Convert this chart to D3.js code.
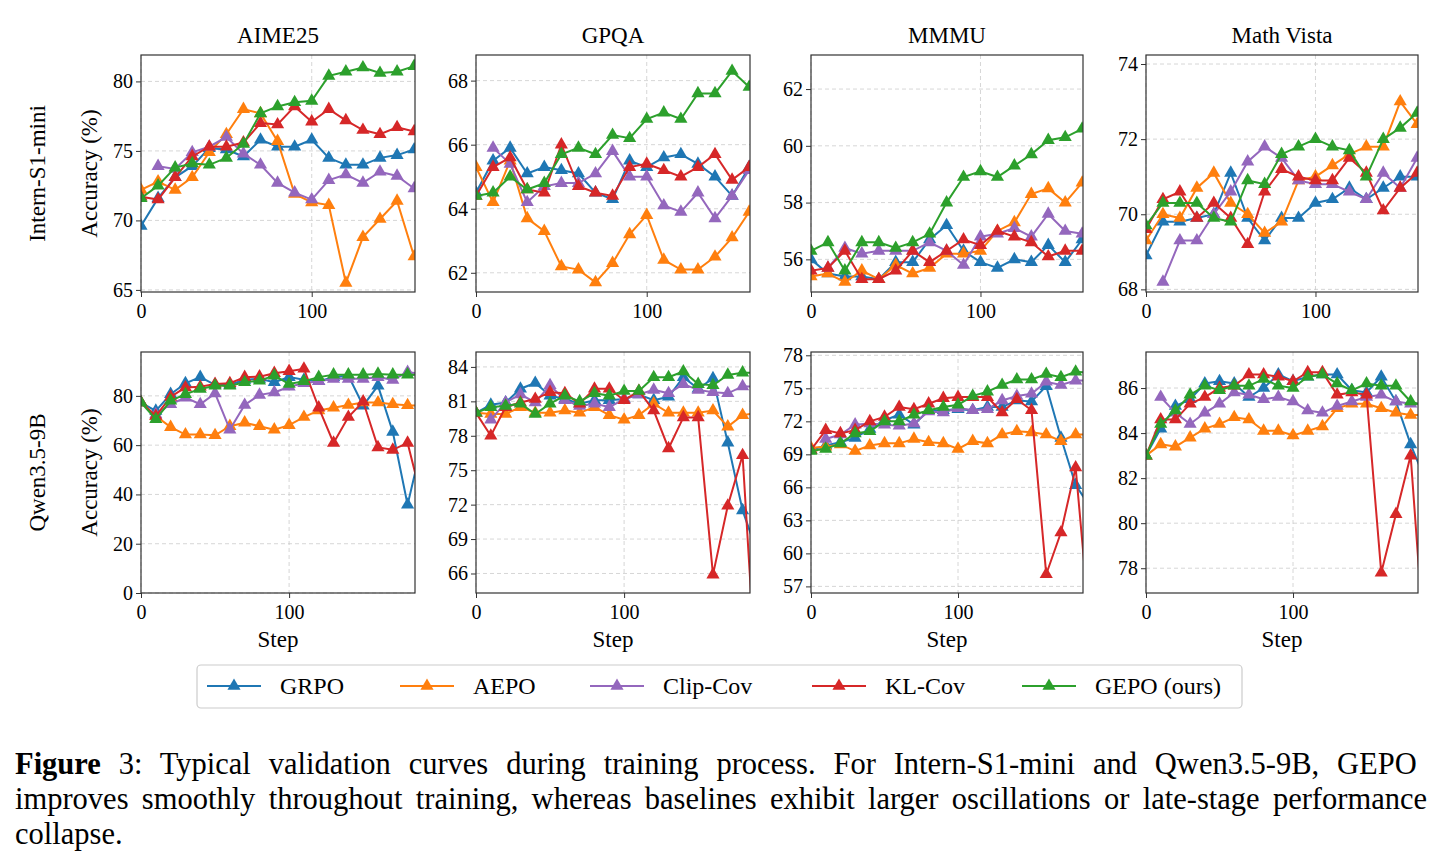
<!DOCTYPE html>
<html><head><meta charset="utf-8">
<script src="https://cdn.jsdelivr.net/npm/d3@7"></script>
<style>body{margin:0;background:#fff}svg{font-family:"Liberation Serif","DejaVu Serif",serif}</style>
</head><body><svg id="c" width="1443" height="867"></svg>
<script>
const seriesNames=["GRPO","AEPO","Clip-Cov","KL-Cov","GEPO (ours)"];
const colors=["#1f77b4","#ff7f0e","#9467bd","#d62728","#2ca02c"];
const stepsTop=d3.range(0,161,10);
const stepsBottom=d3.range(0,191,10);
const N=null;
// Intern-S1-mini
const aime_top=[
[69.6,71.6,73.1,73.9,75.2,75.1,74.6,75.8,75.3,75.3,75.8,74.5,74.0,74.0,74.5,74.7,75.1],
[72.2,72.8,72.2,73.1,74.9,76.2,78.0,77.7,75.7,71.9,71.3,71.1,65.5,68.8,70.1,71.4,67.4],
[N,73.9,73.7,74.9,75.3,76.0,74.8,74.0,72.7,72.0,71.5,72.9,73.3,72.7,73.5,73.2,72.3],
[71.7,71.5,73.1,74.6,75.3,75.3,75.6,77.0,76.9,78.2,77.1,78.0,77.2,76.5,76.2,76.7,76.4],
[71.6,72.5,73.8,74.1,74.0,74.5,75.5,77.7,78.2,78.5,78.6,80.4,80.7,81.0,80.6,80.7,81.1]];
const gpqa_top=[
[64.5,65.5,65.9,65.1,65.3,65.2,65.1,64.5,64.3,65.5,65.3,65.6,65.7,65.4,65.0,64.4,65.3],
[65.3,64.2,65.5,63.7,63.3,62.2,62.1,61.7,62.3,63.2,63.8,62.4,62.1,62.1,62.5,63.1,63.9],
[N,65.9,65.4,64.2,64.7,64.8,64.8,65.1,65.8,65.0,65.0,64.1,63.9,64.5,63.7,64.4,65.2],
[64.4,65.3,65.6,64.6,64.5,66.0,64.7,64.5,64.4,65.3,65.4,65.2,65.0,65.3,65.7,64.9,65.3],
[64.4,64.5,65.0,64.6,64.8,65.7,65.9,65.7,66.3,66.2,66.8,67.0,66.8,67.6,67.6,68.3,67.8]];
const mmmu_top=[
[56.0,55.5,55.4,55.4,55.3,55.9,55.9,56.7,57.2,56.3,55.9,55.7,56.0,55.9,56.5,55.9,56.7],
[55.4,55.5,55.2,55.6,55.3,55.8,55.5,55.7,56.2,56.2,56.3,57.0,57.3,58.3,58.5,58.0,58.7],
[N,55.7,56.4,56.2,56.3,56.3,56.3,56.6,56.3,55.8,56.8,56.9,57.1,56.8,57.6,57.0,56.9],
[55.6,55.7,56.3,55.3,55.3,55.6,56.3,55.9,56.3,56.7,56.5,57.0,56.8,56.6,56.1,56.3,56.3],
[56.3,56.6,55.6,56.6,56.6,56.4,56.6,56.9,58.0,58.9,59.1,58.9,59.3,59.7,60.2,60.3,60.6]];
const vista_top=[
[68.9,69.8,69.8,69.9,70.0,71.1,69.9,69.3,69.9,69.9,70.3,70.4,70.7,70.4,70.7,71.0,71.0],
[69.3,70.0,69.9,70.7,71.1,70.3,70.0,69.5,69.8,70.9,71.0,71.3,71.6,71.8,71.8,73.0,72.4],
[N,68.2,69.3,69.3,70.0,70.6,71.4,71.8,71.5,70.9,70.8,70.8,70.6,70.4,71.1,70.7,71.5],
[69.6,70.4,70.6,69.9,70.3,69.9,69.2,70.6,71.2,71.0,70.9,70.9,71.5,71.1,70.1,70.7,71.1],
[69.7,70.3,70.3,70.3,69.9,69.8,70.9,70.8,71.6,71.8,72.0,71.8,71.7,71.0,72.0,72.3,72.7]];
// Qwen3.5-9B
const aime_bot=[
[77.3,73.9,80.7,85.1,87.6,84.5,84.5,86.5,86.9,85.5,87.6,86.5,85.9,87.6,88.2,76.0,84.1,65.4,35.8,61.4],
[77.3,71.8,67.3,64.3,64.3,64.0,67.7,69.1,67.7,66.3,68.1,71.4,74.1,75.2,76.3,77.3,77.3,76.6,76.2,76.0],
[N,72.5,76.6,79.3,76.6,81.0,66.3,76.3,80.4,81.4,83.7,85.1,85.9,86.9,86.9,86.9,87.6,86.5,89.6,89.0],
[77.3,71.8,79.6,83.4,83.7,84.8,85.1,87.6,87.8,89.2,90.0,91.0,75.2,60.9,71.4,77.7,59.1,58.1,60.9,37.0],
[77.3,70.5,78.0,80.7,82.8,84.1,84.1,85.5,86.2,88.2,84.8,85.9,87.6,88.6,88.6,88.6,88.9,88.6,88.6,88.5]];
const gpqa_bot=[
[80.0,80.7,80.9,82.1,82.6,81.5,81.2,80.8,81.1,81.1,81.2,81.6,81.1,81.4,83.1,82.1,83.0,77.4,71.5,67.8],
[80.0,79.9,79.9,80.5,80.0,80.0,80.2,80.0,80.5,79.8,79.4,79.8,80.8,80.0,80.0,80.0,80.2,78.8,79.8,80.0],
[N,79.4,80.9,81.6,80.9,82.4,81.1,80.6,80.8,80.5,81.2,81.6,82.0,81.7,82.5,82.0,81.8,81.7,82.3,82.3],
[80.0,78.0,80.5,80.9,81.2,81.8,81.7,80.8,82.1,82.1,81.1,81.9,80.2,76.9,79.6,79.6,65.9,71.9,76.3,55.0],
[80.0,80.5,80.6,80.8,79.9,80.8,81.5,81.0,81.7,81.5,81.9,81.9,83.1,83.1,83.6,82.5,82.4,83.3,83.5,83.5]];
const mmmu_bot=[
[69.4,69.8,70.1,70.5,71.3,72.1,72.6,71.7,73.0,73.0,73.1,73.0,73.3,73.3,73.9,73.8,75.2,70.5,66.2,64.2],
[69.6,69.7,69.9,69.3,69.8,70.0,70.0,70.4,70.1,70.0,69.5,70.2,70.0,70.8,71.1,71.0,70.8,70.2,70.8,70.8],
[N,70.4,70.8,71.7,71.8,71.7,71.6,71.8,72.9,72.8,73.2,73.0,73.1,73.9,74.3,74.5,75.6,75.3,75.7,75.7],
[69.4,71.2,70.9,71.2,72.0,72.4,73.3,73.1,73.6,74.1,74.2,74.2,74.2,72.8,74.0,73.0,58.1,61.9,67.8,52.8],
[69.3,69.5,70.0,70.9,71.1,72.0,72.0,72.6,73.0,73.3,73.5,74.3,74.7,75.3,75.8,75.8,76.3,76.0,76.5,76.4]];
const vista_bot=[
[83.0,84.2,85.2,85.5,86.2,86.3,86.2,85.6,86.0,86.6,86.3,86.5,86.6,86.6,85.9,85.8,86.5,85.4,83.5,81.9],
[83.0,83.5,83.4,83.8,84.2,84.4,84.7,84.6,84.1,84.1,83.9,84.1,84.3,85.1,85.3,85.3,85.1,84.9,84.8,84.8],
[N,85.6,84.9,84.4,84.9,85.3,85.8,85.7,85.5,85.6,85.4,85.0,84.9,85.2,85.4,85.6,85.7,85.4,85.3,85.3],
[83.0,84.6,84.6,85.3,85.6,86.0,86.1,86.6,86.6,86.5,86.3,86.7,86.7,85.7,85.8,85.7,77.8,80.4,83.0,74.0],
[83.0,84.4,85.0,85.7,86.1,85.9,86.1,86.1,86.4,86.1,86.0,86.5,86.6,86.2,85.9,86.2,86.1,86.1,85.4,85.2]];
const titles=["AIME25","GPQA","MMMU","Math Vista"];
const rowLabels=["Intern-S1-mini","Qwen3.5-9B"];
const yDomains=[[64.85,81.9],[61.4,68.8],[54.85,63.2],[67.93,74.24],[0,97.8],[64.3,85.3],[56.4,78.3],[76.9,87.6]];
const yTicks=[[65,70,75,80],[62,64,66,68],[56,58,60,62],[68,70,72,74],[0,20,40,60,80],[66,69,72,75,78,81,84],[57,60,63,66,69,72,75,78],[78,80,82,84,86]];
const xTicks=[0,100];
const panelData=[aime_top,gpqa_top,mmmu_top,vista_top,aime_bot,gpqa_bot,mmmu_bot,vista_bot];

const svg=d3.select("#c");
const colX=[[141,415],[476,750],[811,1083],[1146,1418]];
const rowY=[[55,292],[352,593]];
const tri=d3.symbol().type(d3.symbolTriangle).size(75);
panelData.forEach((data,pi)=>{
  const r=Math.floor(pi/4), c=pi%4;
  const steps=r===0?stepsTop:stepsBottom;
  const x=d3.scaleLinear().domain(r===0?[0,160.5]:[0,185]).range(colX[c]);
  const y=d3.scaleLinear().domain(yDomains[pi]).range([rowY[r][1],rowY[r][0]]);
  const g=svg.append("g");
  const id="clip"+pi;
  svg.append("clipPath").attr("id",id).append("rect").attr("x",colX[c][0]).attr("y",rowY[r][0]).attr("width",colX[c][1]-colX[c][0]).attr("height",rowY[r][1]-rowY[r][0]);
  yTicks[pi].forEach(t=>g.append("line").attr("x1",colX[c][0]).attr("x2",colX[c][1]).attr("y1",y(t)).attr("y2",y(t)).attr("stroke","#ccc").attr("stroke-dasharray","4,3").attr("stroke-width",0.8));
  xTicks.forEach(t=>g.append("line").attr("x1",x(t)).attr("x2",x(t)).attr("y1",rowY[r][0]).attr("y2",rowY[r][1]).attr("stroke","#ccc").attr("stroke-dasharray","4,3").attr("stroke-width",0.8));
  const pg=g.append("g").attr("clip-path",`url(#${id})`);
  data.forEach((vals,si)=>{
    const pts=vals.map((v,i)=>[steps[i],v]).filter(d=>d[1]!==null);
    pg.append("path").attr("d",d3.line().x(d=>x(d[0])).y(d=>y(d[1]))(pts)).attr("fill","none").attr("stroke",colors[si]).attr("stroke-width",2);
    pg.selectAll(null).data(pts).enter().append("path").attr("d",tri).attr("transform",d=>`translate(${x(d[0])},${y(d[1])})`).attr("fill",colors[si]);
  });
  const ax=g.append("g").attr("transform",`translate(0,${rowY[r][1]})`).call(d3.axisBottom(x).tickValues(xTicks).tickFormat(d3.format("d")).tickSize(5).tickSizeOuter(0));
  const ay=g.append("g").attr("transform",`translate(${colX[c][0]},0)`).call(d3.axisLeft(y).tickValues(yTicks[pi]).tickFormat(d3.format("d")).tickSize(5).tickSizeOuter(0));
  [ax,ay].forEach(a=>{a.select(".domain").remove();a.selectAll("text").attr("font-size",20).attr("font-family","Liberation Serif").attr("fill","#000");a.selectAll("line").attr("stroke","#333");});
  ax.selectAll("text").attr("dy","0.9em");
  g.append("rect").attr("x",colX[c][0]).attr("y",rowY[r][0]).attr("width",colX[c][1]-colX[c][0]).attr("height",rowY[r][1]-rowY[r][0]).attr("fill","none").attr("stroke","#333").attr("stroke-width",1.2);
  if(r===0) svg.append("text").attr("x",(colX[c][0]+colX[c][1])/2).attr("y",43).attr("text-anchor","middle").attr("font-size",23).text(titles[c]);
  if(r===1) svg.append("text").attr("x",(colX[c][0]+colX[c][1])/2).attr("y",647).attr("text-anchor","middle").attr("font-size",23).text("Step");
  if(c===0){
    const cy=(rowY[r][0]+rowY[r][1])/2;
    svg.append("text").attr("transform",`translate(97,${cy}) rotate(-90)`).attr("text-anchor","middle").attr("font-size",23).text("Accuracy (%)");
    svg.append("text").attr("transform",`translate(45,${cy}) rotate(-90)`).attr("text-anchor","middle").attr("font-size",23).text(rowLabels[r]);
  }
});
// legend
svg.append("rect").attr("x",197).attr("y",665).attr("width",1045).attr("height",43).attr("rx",4).attr("fill","#fff").attr("stroke","#ccc").attr("stroke-width",1.2);
const legX=[207,400,590,812,1022];
seriesNames.forEach((n,i)=>{
  const lx=legX[i];
  svg.append("line").attr("x1",lx).attr("x2",lx+54).attr("y1",686).attr("y2",686).attr("stroke",colors[i]).attr("stroke-width",2);
  svg.append("path").attr("d",tri).attr("transform",`translate(${lx+27},686)`).attr("fill",colors[i]);
  svg.append("text").attr("x",lx+73).attr("y",694).attr("font-size",24).text(n);
});
// caption, justified via word-spacing
const cap=svg.append("g").attr("font-size",30.5);
function justify(t,width){
  const nat=t.node().getComputedTextLength();
  const txt=t.text();
  const gaps=(txt.match(/ /g)||[]).length;
  if(gaps>0) t.attr("word-spacing",Math.max(0,(width-nat)/gaps));
}
const l1=cap.append("text").attr("x",15).attr("y",774);
l1.append("tspan").attr("font-weight","bold").text("Figure");
l1.append("tspan").text(" 3: Typical validation curves during training process.  For Intern-S1-mini and Qwen3.5-9B, GEPO");
justify(l1,1412);
const l2=cap.append("text").attr("x",15).attr("y",809).text("improves smoothly throughout training, whereas baselines exhibit larger oscillations or late-stage performance");
justify(l2,1412);
cap.append("text").attr("x",15).attr("y",844).text("collapse.");
</script></body></html>
